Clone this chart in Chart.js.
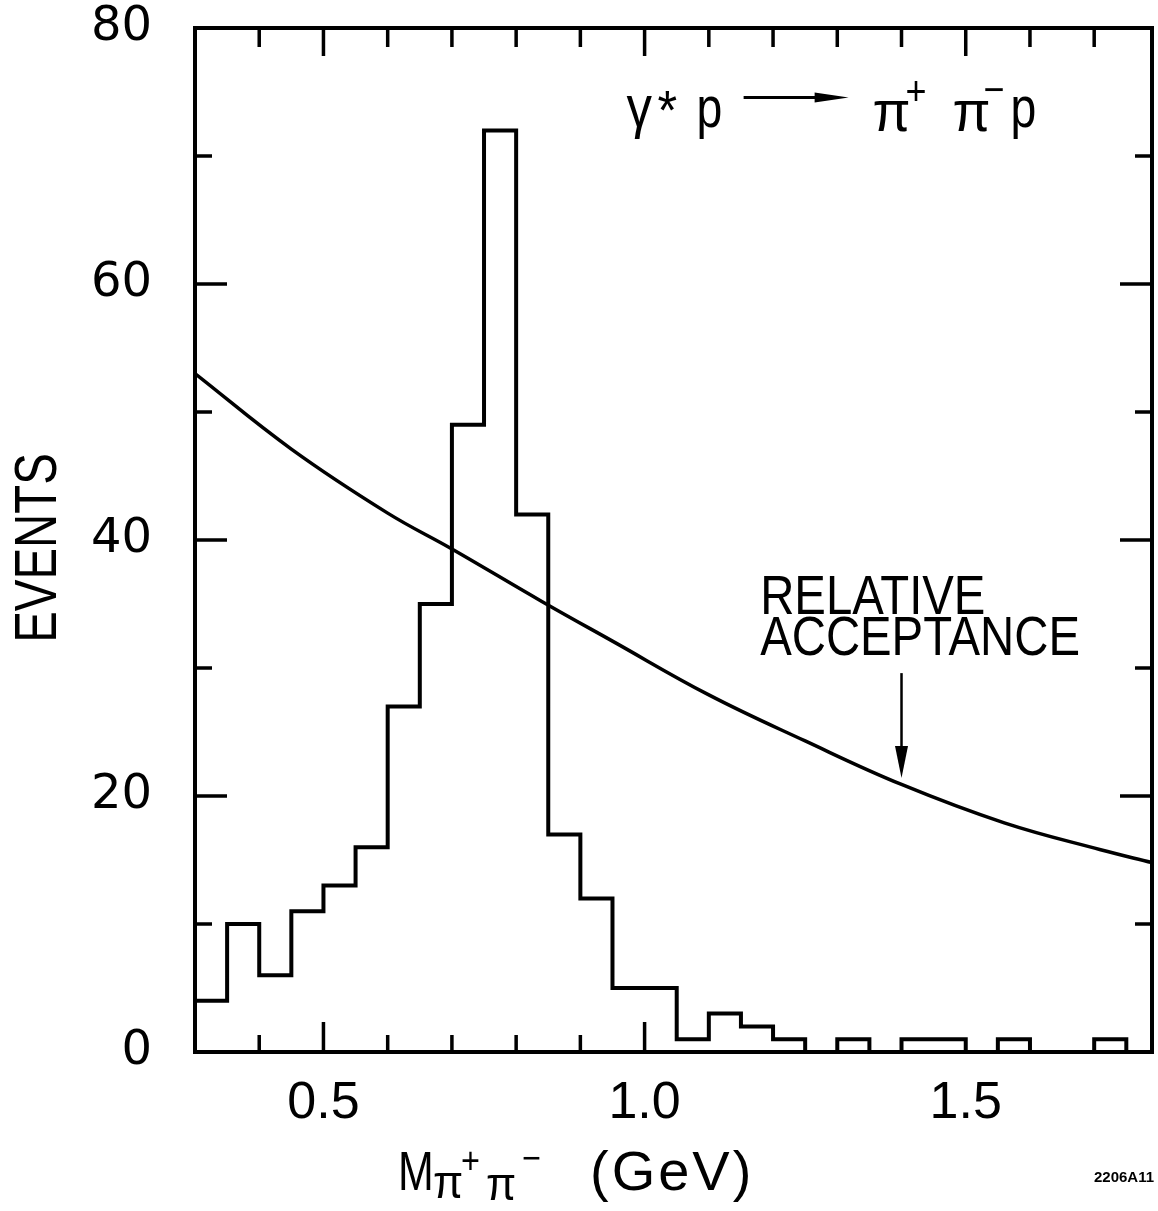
<!DOCTYPE html>
<html>
<head>
<meta charset="utf-8">
<script src="https://cdn.jsdelivr.net/npm/chart.js@4.4.0/dist/chart.umd.min.js"></script>
<style>
  html, body { margin: 0; padding: 0; background: #fff; }
  #wrap { width: 1158px; height: 1211px; }
</style>
</head>
<body>
<div id="wrap"><canvas id="chart" width="1158" height="1211"></canvas></div>
<script>
// Histogram: bin edges in GeV (last entry closes the last bin) and events per bin
const binEdges = [0.30, 0.35, 0.40, 0.45, 0.50, 0.55, 0.60, 0.65, 0.70, 0.75,
                  0.80, 0.85, 0.90, 0.95, 1.00, 1.05, 1.10, 1.15, 1.20, 1.25,
                  1.30, 1.35, 1.40, 1.45, 1.50, 1.55, 1.60, 1.65, 1.70, 1.75, 1.79];
const eventCounts = [4, 10, 6, 11, 13, 16, 27, 35, 49, 72,
                     42, 17, 12, 5, 5, 1, 3, 2, 1, 0,
                     1, 0, 1, 1, 0, 1, 0, 0, 1, 0];

const acceptanceMass  = [0.30, 0.45, 0.60, 0.70, 0.84, 0.95, 1.10, 1.25, 1.40, 1.56, 1.71, 1.79];
const acceptanceValue = [53.0, 47.1, 42.1, 39.3, 35.2, 32.1, 27.9, 24.3, 20.9, 17.9, 15.8, 14.8];

// Axis ticks
const xTickValues = [0.5, 1.0, 1.5];
const yTickValues = [0, 20, 40, 60, 80];
const topFrameTicks = [0.4, 0.5, 0.6, 0.7, 0.8, 0.9, 1.0, 1.1, 1.2, 1.3, 1.4, 1.5, 1.6, 1.7];
const bottomFrameTicks = [0.4, 0.5, 0.6, 0.7, 0.8, 0.9, 1.0];
const xMajorTicks = [0.5, 1.0, 1.5];
const sideFrameTicks = [10, 20, 30, 40, 50, 60, 70];
const yMajorTicks = [20, 40, 60];

const histPoints = binEdges.map((x, i) => ({ x: x, y: i < eventCounts.length ? eventCounts[i] : eventCounts[eventCounts.length - 1] }));
const accPoints = acceptanceMass.map((x, i) => ({ x: x, y: acceptanceValue[i] }));

const SANS = "'Liberation Sans', Arial, sans-serif";

// draw text with horizontal squeeze, returns drawn width
function drawText(ctx, text, x, y, size, sx, align, weight) {
    ctx.save();
    ctx.font = (weight || 'normal') + ' ' + size + 'px ' + SANS;
    ctx.textAlign = align || 'left';
    ctx.textBaseline = 'alphabetic';
    ctx.translate(x, y);
    ctx.scale(sx, 1);
    ctx.fillText(text, 0, 0);
    const w = ctx.measureText(text).width * sx;
    ctx.restore();
    return w;
}

function arrowHead(ctx, tipX, tipY, dirX, dirY, len, half) {
    const bx = tipX - dirX * len, by = tipY - dirY * len;
    ctx.beginPath();
    ctx.moveTo(tipX, tipY);
    ctx.lineTo(bx - dirY * half, by + dirX * half);
    ctx.lineTo(bx + dirY * half, by - dirX * half);
    ctx.closePath();
    ctx.fill();
}

const framePlugin = {
    id: 'frame',
    afterDatasetsDraw(chart) {
        const { ctx, chartArea: a, scales: { x, y } } = chart;
        ctx.save();
        ctx.strokeStyle = '#000';
        ctx.fillStyle = '#000';
        ctx.lineWidth = 4;
        ctx.strokeRect(a.left, a.top, a.right - a.left, a.bottom - a.top);

        ctx.lineWidth = 3.5;
        ctx.beginPath();
        topFrameTicks.forEach(v => {
            const px = x.getPixelForValue(v);
            const len = xMajorTicks.includes(v) ? 28 : 19;
            ctx.moveTo(px, a.top); ctx.lineTo(px, a.top + len);
        });
        bottomFrameTicks.forEach(v => {
            const px = x.getPixelForValue(v);
            const len = xMajorTicks.includes(v) ? 30 : 17;
            ctx.moveTo(px, a.bottom); ctx.lineTo(px, a.bottom - len);
        });
        sideFrameTicks.forEach(v => {
            const py = y.getPixelForValue(v);
            const len = yMajorTicks.includes(v) ? 32 : 17;
            ctx.moveTo(a.left, py); ctx.lineTo(a.left + len, py);
            ctx.moveTo(a.right, py); ctx.lineTo(a.right - len, py);
        });
        ctx.stroke();
        ctx.restore();
    }
};

const labelPlugin = {
    id: 'labels',
    afterDraw(chart) {
        const { ctx, chartArea: a, scales: { x, y } } = chart;
        ctx.save();
        ctx.fillStyle = '#000';
        ctx.strokeStyle = '#000';

        // reaction label
        const rx = x.getPixelForValue(0.972), ry = y.getPixelForValue(72.3);
        drawText(ctx, 'γ', rx, ry, 60, 0.85);
        drawText(ctx, '*', rx + 31, ry + 2, 56, 0.9);
        drawText(ctx, 'p', rx + 70, ry, 58, 0.8);
        ctx.lineWidth = 3;
        ctx.beginPath();
        ctx.moveTo(rx + 117, ry - 29); ctx.lineTo(rx + 200, ry - 29);
        ctx.stroke();
        arrowHead(ctx, rx + 222, ry - 29, 1, 0, 34, 5);
        drawText(ctx, 'π', rx + 246, ry + 4, 58, 0.95);
        drawText(ctx, '+', rx + 279, ry - 22, 40, 0.9);
        drawText(ctx, 'π', rx + 326, ry + 4, 58, 0.95);
        drawText(ctx, '−', rx + 357, ry - 24, 40, 0.9);
        drawText(ctx, 'p', rx + 384, ry, 58, 0.8);

        // relative acceptance label and arrow
        const lx = x.getPixelForValue(1.18), ly = y.getPixelForValue(34.2);
        drawText(ctx, 'RELATIVE', lx, ly, 55, 0.86);
        drawText(ctx, 'ACCEPTANCE', lx, ly + 41, 55, 0.86);
        const ax = x.getPixelForValue(1.40);
        const ay0 = y.getPixelForValue(29.6), ay1 = y.getPixelForValue(21.4);
        ctx.lineWidth = 2.5;
        ctx.beginPath();
        ctx.moveTo(ax, ay0); ctx.lineTo(ax, ay1 - 20);
        ctx.stroke();
        arrowHead(ctx, ax, ay1, 0, 1, 32, 6.5);

        // y axis title
        ctx.save();
        ctx.translate(56, 548);
        ctx.rotate(-Math.PI / 2);
        drawText(ctx, 'EVENTS', 0, 0, 60, 0.79, 'center');
        ctx.restore();

        // x axis title
        const tx = 398, tb = 1190;
        drawText(ctx, 'M', tx, tb, 55, 0.78);
        drawText(ctx, 'π', tx + 35, tb + 8, 46, 0.95);
        drawText(ctx, '+', tx + 63, tb - 17, 36, 0.9);
        drawText(ctx, 'π', tx + 88, tb + 10, 46, 0.95);
        drawText(ctx, '−', tx + 124, tb - 20, 36, 0.9);
        ctx.save();
        ctx.letterSpacing = '3px';
        drawText(ctx, '(GeV)', tx + 192, tb, 56, 1.0);
        ctx.restore();

        // figure code
        drawText(ctx, '2206A11', 1094, 1182, 15, 1.0, 'left', 'bold');
        ctx.restore();
    }
};

const ctx = document.getElementById('chart').getContext('2d');
new Chart(ctx, {
    type: 'line',
    data: {
        datasets: [
            {
                label: 'Events',
                data: histPoints,
                stepped: 'before',
                borderColor: '#000',
                borderWidth: 4,
                borderJoinStyle: 'miter',
                pointRadius: 0,
                fill: false
            },
            {
                label: 'Relative acceptance',
                data: accPoints,
                borderColor: '#000',
                borderWidth: 3.5,
                pointRadius: 0,
                tension: 0.4,
                fill: false
            }
        ]
    },
    options: {
        responsive: false,
        animation: false,
        layout: { padding: { top: 28, right: 6, left: 0, bottom: 0 } },
        plugins: {
            legend: { display: false },
            tooltip: { enabled: false }
        },
        scales: {
            x: {
                type: 'linear',
                min: 0.3,
                max: 1.79,
                grid: { display: false, drawTicks: false },
                border: { display: false },
                afterBuildTicks: s => { s.ticks = xTickValues.map(v => ({ value: v })); },
                afterFit: s => { s.height = 159; s.paddingLeft = 0; s.paddingRight = 0; },
                ticks: {
                    color: '#000',
                    padding: 26,
                    maxRotation: 0,
                    autoSkip: false,
                    font: { family: "'Liberation Sans Narrow', 'Liberation Sans', sans-serif", size: 52, lineHeight: 1 },
                    callback: v => v.toFixed(1)
                }
            },
            y: {
                min: 0,
                max: 80,
                grid: { display: false, drawTicks: false },
                border: { display: false },
                afterBuildTicks: s => { s.ticks = yTickValues.map(v => ({ value: v })); },
                afterFit: s => { s.width = 195; s.paddingTop = 0; s.paddingBottom = 0; },
                ticks: {
                    color: '#000',
                    padding: 43,
                    font: { family: "'DejaVu Sans', sans-serif", size: 48, lineHeight: 1 }
                }
            }
        }
    },
    plugins: [framePlugin, labelPlugin]
});
</script>
</body>
</html>
